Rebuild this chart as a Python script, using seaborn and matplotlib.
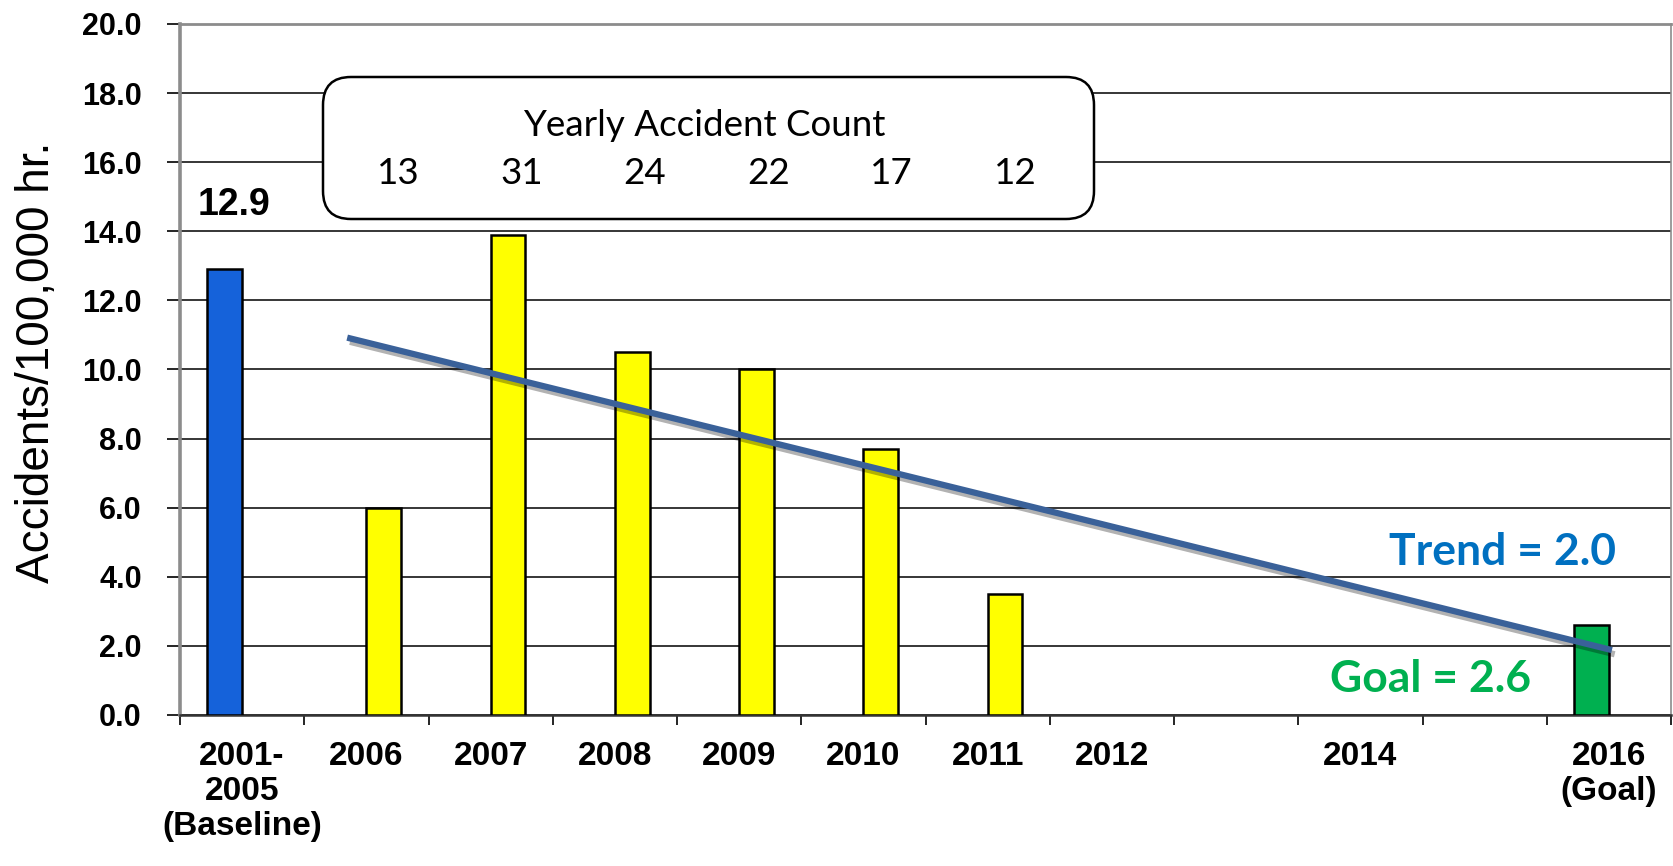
import numpy as np
import pandas as pd
import matplotlib
matplotlib.use("Agg")
import matplotlib.pyplot as plt
import matplotlib.patheffects as pe
from matplotlib.patches import FancyBboxPatch
import seaborn as sns

# 数据
categories = ["2001-2005", "2006", "2007", "2008", "2009", "2010", "2011",
              "2012", "2013", "2014", "2015", "2016"]
tick_labels = ["2001-\n2005\n(Baseline)", "2006", "2007", "2008", "2009", "2010",
               "2011", "2012", "", "2014", "", "2016\n(Goal)"]
bar_years = ["2001-2005", "2006", "2007", "2008", "2009", "2010", "2011", "2016"]
bar_values = [12.9, 6.0, 13.9, 10.5, 10.0, 7.7, 3.5, 2.6]
bar_series = ["Baseline", "Yearly", "Yearly", "Yearly", "Yearly", "Yearly", "Yearly", "Baseline"]
accident_counts = [13, 31, 24, 22, 17, 12]
trend_years = ["2006", "2016"]
trend_values = [10.9, 1.9]
y_ticks = [0, 2, 4, 6, 8, 10, 12, 14, 16, 18, 20]

bar_colors = {"2001-2005": "#1562DA", "2016": "#00B050"}
yellow = "#FFFF00"

plt.rcParams['font.family'] = ['Liberation Sans', 'DejaVu Sans']

df = pd.DataFrame({"year": bar_years, "rate": bar_values, "series": bar_series})

fig = plt.figure(figsize=(16.73, 8.66), dpi=100)
ax = fig.add_axes([180 / 1673, 1 - 715 / 866, 1491 / 1673, 691 / 866])

sns.barplot(data=df, x="year", y="rate", hue="series", order=categories,
            hue_order=["Baseline", "Yearly"], palette={"Baseline": "#1562DA", "Yearly": yellow},
            width=0.56, dodge=True, edgecolor="black", linewidth=1.8, legend=False,
            ax=ax, zorder=3)

# 每根柱子单独上色
for container in ax.containers:
    for bar in container:
        idx = int(round(bar.get_x() + bar.get_width() / 2))
        bar.set_facecolor(bar_colors.get(categories[idx], yellow))

# 趋势线
trend_x = [categories.index(y) for y in trend_years]
trend_x[0] -= 0.13
sns.lineplot(x=trend_x, y=trend_values, color="#3A6199", linewidth=4.5, ax=ax, zorder=5,
             path_effects=[pe.SimpleLineShadow(offset=(2, -3), alpha=0.3), pe.Normal()])

ax.set_xlim(-0.5, len(categories) - 0.5)
ax.set_ylim(0, 20)

# 坐标轴
ax.set_yticks(y_ticks)
ax.set_yticklabels([f"{v:.1f}" for v in y_ticks], fontsize=22, fontweight="bold")
ax.tick_params(axis="y", direction="out", length=9.5, width=1.2, pad=18)
ax.yaxis.grid(True, color="black", linewidth=1.1)
ax.set_axisbelow(True)

ax.set_xticks(range(len(categories)))
ax.set_xticklabels(tick_labels, fontsize=24, fontweight="bold", linespacing=1.15)
ax.tick_params(axis="x", which="major", length=0, pad=19)
ax.set_xticks(np.arange(len(categories) + 1) - 0.5, minor=True)
ax.tick_params(axis="x", which="minor", direction="out", length=7.5, width=1.2)
ax.set_xlabel("")

ax.set_ylabel("Accidents/100,000 hr.", fontsize=33)
ax.yaxis.set_label_coords(-0.0958, 0.51)
ax.yaxis.label.set_va("center")

for side in ["left", "top", "right"]:
    ax.spines[side].set_color("#8C8C8C")
ax.spines["left"].set_linewidth(2.6)
ax.spines["top"].set_linewidth(2.0)
ax.spines["right"].set_linewidth(1.2)
ax.spines["bottom"].set_color("#333333")
ax.spines["bottom"].set_linewidth(1.8)

# 基线数值标签
ax.annotate("12.9", xy=(0 - 0.14, bar_values[0]), xytext=(7, 39), textcoords="offset points",
            ha="center", va="baseline", fontsize=27, fontweight="bold")

# 趋势 / 目标 文本
ax.text(0.887, 0.217, "Trend = 2.0", transform=ax.transAxes, ha="center", va="baseline",
        fontsize=32, fontweight="bold", color="#0070C0", family=["Lato", "DejaVu Sans"])
ax.text(0.839, 0.033, "Goal = 2.6", transform=ax.transAxes, ha="center", va="baseline",
        fontsize=32, fontweight="bold", color="#00B050", family=["Lato", "DejaVu Sans"])

# 年度事故数框
box = FancyBboxPatch((3.23, 6.47), 7.71, 1.42, boxstyle="round,pad=0,rounding_size=0.28",
                     transform=fig.dpi_scale_trans, facecolor="white", edgecolor="black",
                     linewidth=1.8, zorder=10)
fig.patches.append(box)
fig.text(704 / 1673, 1 - 126 / 866, "Yearly Accident Count", ha="center", va="center",
         fontsize=26.5, family=["Lato", "DejaVu Sans"], zorder=11)
for xp, cnt in zip(np.linspace(398, 1015, len(accident_counts)), accident_counts):
    fig.text(xp / 1673, 1 - 173 / 866, str(cnt), ha="center", va="center",
             fontsize=26.5, family=["Lato", "DejaVu Sans"], zorder=11)

fig.savefig("out.png", dpi=100)
